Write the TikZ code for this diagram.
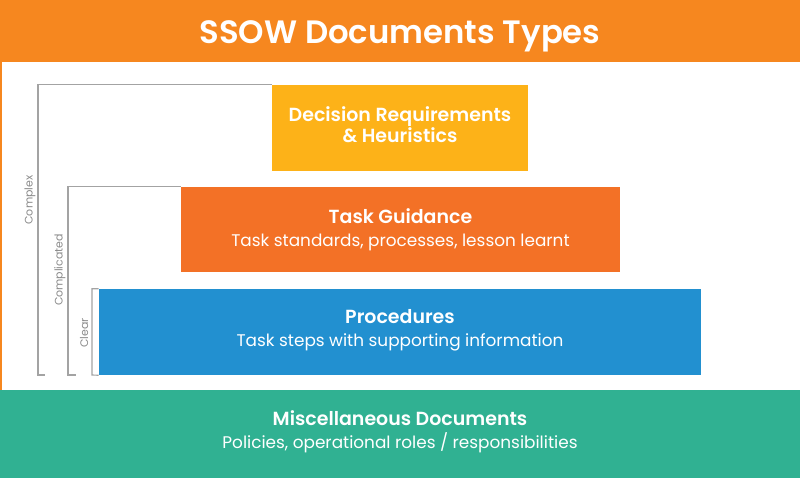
\documentclass[tikz,border=0pt]{standalone}
\usepackage{fontspec}
\setmainfont{Poppins}[BoldFont={* SemiBold}]
\usepackage{xcolor}
\usepackage{tikz}
\usetikzlibrary{positioning,calc}

\definecolor{titleorange}{HTML}{F6871F}
\definecolor{decyellow}{HTML}{FDB218}
\definecolor{taskorange}{HTML}{F37126}
\definecolor{procblue}{HTML}{2290D0}
\definecolor{miscgreen}{HTML}{30B192}
\definecolor{brackgray}{HTML}{A3A3A3}

\begin{document}
\begin{tikzpicture}[
	tier/.style={inner sep=0pt,minimum height=2.15cm,text=white,align=center},
	bracket/.style={brackgray,line width=0.8pt},
	level/.style={brackgray!85!black,rotate=90,font=\fontsize{7.8}{9}\selectfont}]
	\useasboundingbox (0,0) rectangle (20,11.95);
	% header
	\fill[titleorange] (0,10.4) rectangle (20,11.95);
	\node[text=white,font=\fontsize{23}{28}\selectfont\bfseries] (title) at (10,11.05) {SSOW Documents Types};
	\fill[titleorange] (0,2.2) rectangle (0.04,10.4);
	% tiers
	\node[tier,fill=decyellow,minimum width=6.4cm] (dec) at (10,8.75) {};
	\node[tier] (declbl) at (10,8.83)
		{\fontsize{13.5}{16.5}\selectfont\bfseries Decision Requirements\\\fontsize{13.5}{16.5}\selectfont\bfseries \& Heuristics};
	\node[tier,fill=taskorange,minimum width=10.975cm,minimum height=2.125cm] (task) at (10.0125,6.2125)
		{\fontsize{13.5}{16}\selectfont\bfseries Task Guidance\\[4.5pt]\fontsize{12}{14}\selectfont Task standards, processes, lesson learnt};
	\node[tier,fill=procblue,minimum width=15.05cm] (proc) at (10,3.65) {};
	\node[tier] (proclbl) at (10,3.7)
		{\fontsize{13.5}{16}\selectfont\bfseries Procedures\\[4.5pt]\fontsize{12}{14}\selectfont Task steps with supporting information};
	\node[tier,fill=miscgreen,minimum width=20cm,minimum height=2.2cm] (misc) at (10,1.1) {};
	\node[tier] (misclbl) at (10,1.15)
		{\fontsize{13.5}{16}\selectfont\bfseries Miscellaneous Documents\\[4.5pt]\fontsize{12}{14}\selectfont Policies, operational roles / responsibilities};
	% brackets
	\coordinate (cxb) at (0.95,2.575);
	\coordinate (cdb) at (1.7,2.575);
	\coordinate (clb) at (2.3,2.575);
	\draw[bracket] (dec.north west) -| (cxb) -- ++(0.175,0);
	\draw[bracket] (task.north west) -| (cdb) -- ++(0.2,0);
	\draw[bracket] (proc.north west) -| (clb) -- (proc.south west);
	\node[level] (complex) at (0.75,6.95) {Complex};
	\node[level] (complicated) at (1.5,5.2) {Complicated};
	\node[level] (clear) at (2.1,3.625) {Clear};
\end{tikzpicture}
\end{document}
